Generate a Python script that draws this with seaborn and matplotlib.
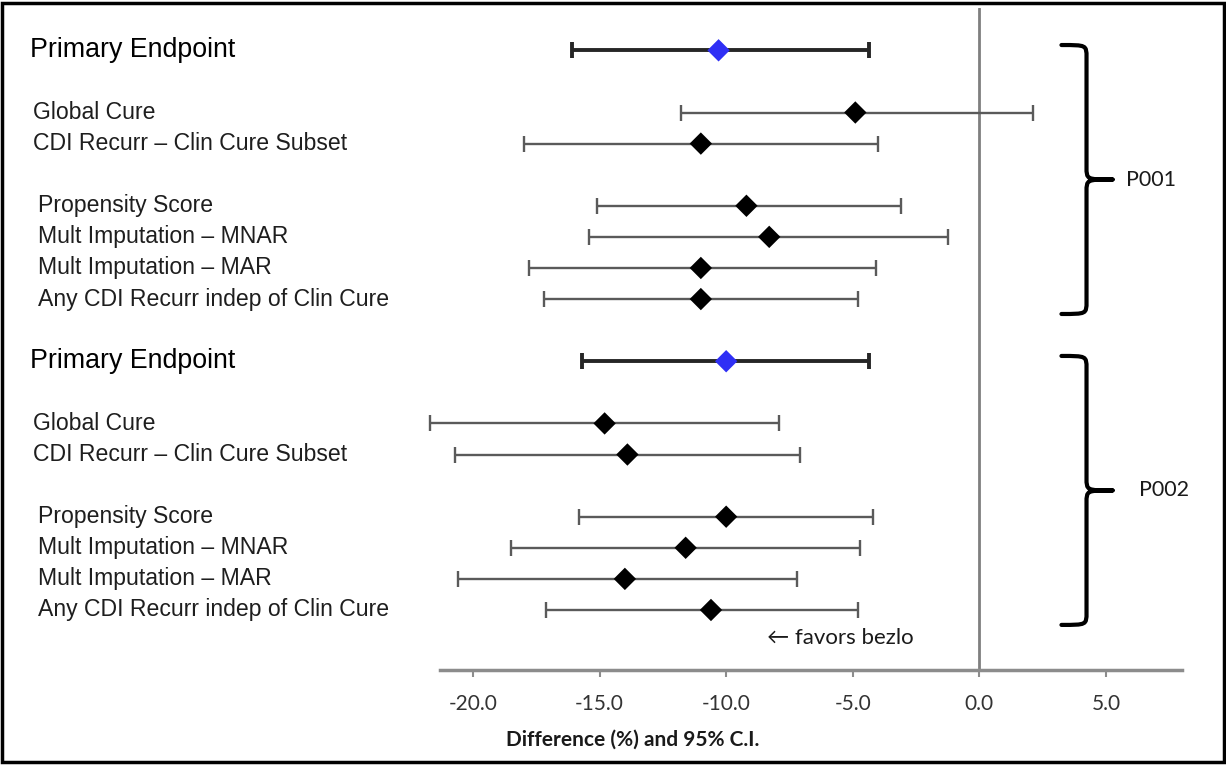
import numpy as np
import pandas as pd
import seaborn as sns
import matplotlib.pyplot as plt
from matplotlib.path import Path
from matplotlib.patches import PathPatch, Rectangle
from matplotlib.transforms import blended_transform_factory

sns.set_style('white')
plt.rcParams['font.family'] = ['Liberation Sans', 'DejaVu Sans']

# row labels, grouped into sections (a blank row follows each section)
trials = ['P001', 'P002']
sections = [
    ['Primary Endpoint'],
    ['Global Cure', 'CDI Recurr \u2013 Clin Cure Subset'],
    ['Propensity Score', 'Mult Imputation \u2013 MNAR', 'Mult Imputation \u2013 MAR',
     'Any CDI Recurr indep of Clin Cure'],
]

# difference (%) and 95% CI
p001_est = [-10.3, -4.9, -11.0, -9.2, -8.3, -11.0, -11.0]
p001_lo = [-16.1, -11.8, -18.0, -15.1, -15.4, -17.8, -17.2]
p001_hi = [-4.35, 2.1, -4.0, -3.1, -1.25, -4.1, -4.8]

p002_est = [-10.0, -14.8, -13.9, -10.0, -11.6, -14.0, -10.6]
p002_lo = [-15.7, -21.7, -20.7, -15.8, -18.5, -20.6, -17.1]
p002_hi = [-4.35, -7.9, -7.1, -4.2, -4.7, -7.2, -4.8]

tick_vals = [-20, -15, -10, -5, 0, 5]
tick_labels = ['-20.0', '-15.0', '-10.0', '-5.0', '0.0', '5.0']

# build long table with a row index per line
records = []
r = 0
for trial, est, lo, hi in [('P001', p001_est, p001_lo, p001_hi),
                           ('P002', p002_est, p002_lo, p002_hi)]:
    i = 0
    for s_idx, sec in enumerate(sections):
        for lab in sec:
            records.append(dict(trial=trial, label=lab, section=s_idx, row=r,
                                est=est[i], lo=lo[i], hi=hi[i],
                                kind='primary' if s_idx == 0 else 'other'))
            i += 1
            r += 1
        r += 1
df = pd.DataFrame(records)

fig = plt.figure(figsize=(12.26, 7.65), dpi=100)
ax = fig.add_axes([0.3589, 0.1242, 0.6052, 0.8653])

ax.axvline(0, color='#7f7f7f', lw=2, zorder=1)

# confidence intervals
styles = {'primary': dict(color='#262626', lw=2.8),
          'other': dict(color='#5a5a5a', lw=1.7)}
for kind, st in styles.items():
    d = df[df['kind'] == kind]
    eb = ax.errorbar(d['est'], d['row'], xerr=[d['est'] - d['lo'], d['hi'] - d['est']],
                     fmt='none', ecolor=st['color'], elinewidth=st['lw'],
                     capsize=6, capthick=st['lw'], zorder=2)
    for a in list(eb[1]) + list(eb[2]):
        a.set_clip_on(False)

sns.scatterplot(data=df, x='est', y='row', hue='kind',
                palette={'primary': '#2f2ff5', 'other': 'black'},
                marker='D', s=130, linewidth=0, legend=False, zorder=3,
                clip_on=False, ax=ax)

ax.set_xlim(-21.3, 8.0)
ax.set_ylim(19.93, -1.36)
ax.set_yticks([])
ax.set_ylabel('')
for side in ['top', 'right', 'left']:
    ax.spines[side].set_visible(False)
ax.spines['bottom'].set_color('#8c8c8c')
ax.spines['bottom'].set_linewidth(2.5)
ax.set_xticks(tick_vals)
ax.set_xticklabels(tick_labels, fontfamily='Lato', fontsize=15, color='#333333')
ax.tick_params(axis='x', direction='out', length=5, width=1.5, color='#8c8c8c', pad=12,
               bottom=True)
ax.set_xlabel('Difference (%) and 95% C.I.', fontfamily='Lato', fontweight='bold',
              fontsize=15, color='#1a1a1a')
ax.xaxis.set_label_coords(0.26, -0.09)

# row labels on the left
trans = blended_transform_factory(fig.transFigure, ax.transData)
label_x = {0: 30 / 1226, 1: 33 / 1226, 2: 38 / 1226}
for _, row in df.iterrows():
    big = row['section'] == 0
    ax.text(label_x[row['section']], row['row'], row['label'], transform=trans,
            ha='left', va='center', fontsize=19.3 if big else 16.6,
            color='black' if big else '#1e1e1e')

# curly braces grouping each trial
x0, x1, xt = 3.24, 4.23, 5.26
for k, trial in enumerate(trials):
    rows = df.loc[df['trial'] == trial, 'row']
    top, bot = rows.min() - 0.17, rows.max() + 0.48
    mid = (top + bot) / 2
    verts = [(x0, top), (x1, top), (x1, top), (x1, top + 0.4),
             (x1, mid - 0.4), (x1, mid), (x1, mid), (xt, mid),
             (x1, mid), (x1, mid), (x1, mid + 0.4),
             (x1, bot - 0.4), (x1, bot), (x1, bot), (x0, bot)]
    codes = [Path.MOVETO, Path.CURVE4, Path.CURVE4, Path.CURVE4,
             Path.LINETO, Path.CURVE4, Path.CURVE4, Path.CURVE4,
             Path.CURVE4, Path.CURVE4, Path.CURVE4,
             Path.LINETO, Path.CURVE4, Path.CURVE4, Path.CURVE4]
    ax.add_patch(PathPatch(Path(verts, codes), fill=False, lw=3, ec='black',
                           capstyle='round', joinstyle='round', clip_on=False))
    ax.text(5.8 + 0.5 * k, mid, trial, ha='left', va='center', fontsize=15.5,
            fontfamily='Lato', color='#1a1a1a')

ax.text(-8.4, 18.9, '\u2190 favors bezlo', ha='left', va='center', fontsize=16,
        fontfamily=['Lato', 'DejaVu Sans'], color='#1a1a1a')

fig.add_artist(Rectangle((0.002, 0.004), 0.996, 0.992, transform=fig.transFigure,
                         fill=False, lw=2.5, ec='black'))

fig.savefig('out.png', dpi=100)
